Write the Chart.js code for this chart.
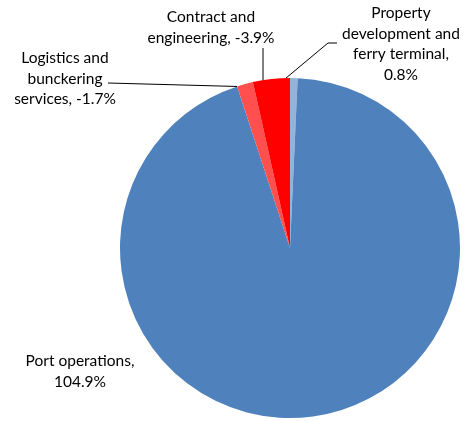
<!DOCTYPE html>
<html>
<head>
<meta charset="utf-8">
<script src="https://cdn.jsdelivr.net/npm/chart.js@4/dist/chart.umd.min.js"></script>
<style>
  html, body { margin: 0; padding: 0; background: #fff; }
  #wrap { width: 467px; height: 421px; }
</style>
</head>
<body>
<div id="wrap"><canvas id="pie"></canvas></div>
<script>
const segmentos = ['Property development and ferry terminal', 'Port operations', 'Logistics and bunckering services', 'Contract and engineering'];
const porcentajes = [0.8, 104.9, -1.7, -3.9];
const colores = ['#95B3D7', '#4F81BD', '#FF4F4F', '#FF0000'];

// label text lines, where they sit, and leader line path (layout only)
const etiquetas = [
    { lineas: ['Property', 'development and', 'ferry terminal,', '0.8%'], x: 401, y: 13, ancla: [[337, 43], [328, 43]], finX: 286 },
    { lineas: ['Port operations,', '104.9%'], x: 80, y: 361, ancla: null },
    { lineas: ['Logistics and', 'bunckering', 'services, -1.7%'], x: 65, y: 58, ancla: [[108, 83]], finX: 237 },
    { lineas: ['Contract and', 'engineering, -3.9%'], x: 211, y: 17, ancla: [[263, 48]], finX: 263 }
];

const etiquetasPlugin = {
    id: 'etiquetas',
    afterDraw(chart) {
        const ctx = chart.ctx;
        const meta = chart.getDatasetMeta(0);
        ctx.save();
        ctx.font = '15.5px Lato, "Open Sans", sans-serif';
        ctx.fillStyle = '#000';
        ctx.textAlign = 'center';
        ctx.textBaseline = 'middle';
        etiquetas.forEach((et, i) => {
            et.lineas.forEach((l, j) => ctx.fillText(l, et.x, et.y + j * 20.5));
            if (!et.ancla) return;
            const arc = meta.data[i];
            // end of the leader: point on the pie's rim at x = finX
            const dx = et.finX - arc.x;
            const px = et.finX;
            const py = arc.y - Math.sqrt(arc.outerRadius * arc.outerRadius - dx * dx);
            ctx.beginPath();
            ctx.strokeStyle = '#000';
            ctx.lineWidth = 1;
            ctx.moveTo(et.ancla[0][0], et.ancla[0][1]);
            et.ancla.slice(1).forEach(p => ctx.lineTo(p[0], p[1]));
            ctx.lineTo(px, py);
            ctx.stroke();
        });
        ctx.restore();
    }
};

new Chart(document.getElementById('pie'), {
    type: 'pie',
    data: {
        labels: segmentos,
        datasets: [{
            data: porcentajes.map(v => Math.abs(v)),
            backgroundColor: colores,
            borderWidth: 0
        }]
    },
    options: {
        responsive: true,
        maintainAspectRatio: false,
        animation: false,
        layout: { padding: { left: 120, right: 7, top: 78, bottom: 3 } },
        plugins: {
            legend: { display: false },
            tooltip: { enabled: false }
        }
    },
    plugins: [etiquetasPlugin]
});
</script>
</body>
</html>
